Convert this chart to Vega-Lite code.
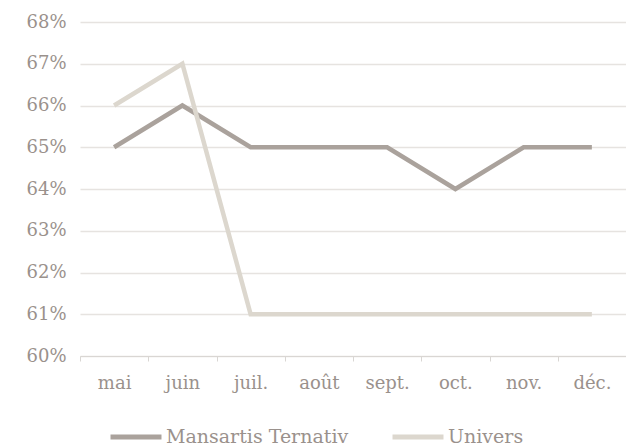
{
  "$schema": "https://vega.github.io/schema/vega-lite/v6.json",
  "width": 546,
  "height": 334,
  "padding": {"left": 80, "top": 22, "right": 0, "bottom": 90},
  "autosize": {"type": "none"},
  "background": "white",
  "config": {
    "view": {"stroke": null},
    "font": "DejaVu Serif",
    "axis": {"labelFont": "DejaVu Serif", "labelFontSize": 18, "labelColor": "#9a918c", "title": null, "labelOverlap": false, "labelFlush": false}
  },
  "data": {"values": [
    {"mois": "mai", "serie": "Mansartis Ternativ", "v": 0.65},
    {"mois": "juin", "serie": "Mansartis Ternativ", "v": 0.66},
    {"mois": "juil.", "serie": "Mansartis Ternativ", "v": 0.65},
    {"mois": "août", "serie": "Mansartis Ternativ", "v": 0.65},
    {"mois": "sept.", "serie": "Mansartis Ternativ", "v": 0.65},
    {"mois": "oct.", "serie": "Mansartis Ternativ", "v": 0.64},
    {"mois": "nov.", "serie": "Mansartis Ternativ", "v": 0.65},
    {"mois": "déc.", "serie": "Mansartis Ternativ", "v": 0.65},
    {"mois": "mai", "serie": "Univers", "v": 0.66},
    {"mois": "juin", "serie": "Univers", "v": 0.67},
    {"mois": "juil.", "serie": "Univers", "v": 0.61},
    {"mois": "août", "serie": "Univers", "v": 0.61},
    {"mois": "sept.", "serie": "Univers", "v": 0.61},
    {"mois": "oct.", "serie": "Univers", "v": 0.61},
    {"mois": "nov.", "serie": "Univers", "v": 0.61},
    {"mois": "déc.", "serie": "Univers", "v": 0.61}
  ]},
  "mark": {"type": "line", "strokeWidth": 4.5, "strokeJoin": "miter"},
  "encoding": {
    "x": {
      "field": "mois", "type": "ordinal",
      "sort": ["mai", "juin", "juil.", "août", "sept.", "oct.", "nov.", "déc."],
      "scale": {"type": "band", "paddingInner": 0, "paddingOuter": 0},
      "axis": {"labelAngle": 0, "tickBand": "extent", "domainColor": "#d9d6d3", "tickColor": "#d9d6d3", "tickSize": 5, "labelPadding": 13, "grid": false}
    },
    "y": {
      "field": "v", "type": "quantitative",
      "scale": {"domain": [0.6, 0.68], "nice": false, "zero": false},
      "axis": {"format": ".0%", "values": [0.6,0.61,0.62,0.63,0.64,0.65,0.66,0.67,0.68], "domain": false, "ticks": false, "labelPadding": 14, "gridColor": "#e6e3e0", "gridWidth": 1.5}
    },
    "color": {
      "field": "serie", "type": "nominal",
      "scale": {"domain": ["Mansartis Ternativ", "Univers"], "range": ["#aaa29c", "#dcd7ce"]},
      "legend": {"title": null, "orient": "none", "direction": "horizontal", "legendX": 28, "legendY": 387, "symbolType": "stroke", "symbolSize": 2600, "symbolStrokeWidth": 5, "labelFontSize": 19, "labelLimit": 400, "labelColor": "#9a918c", "labelFont": "DejaVu Serif", "labelOffset": 2, "columnPadding": 33}
    }
  }
}
